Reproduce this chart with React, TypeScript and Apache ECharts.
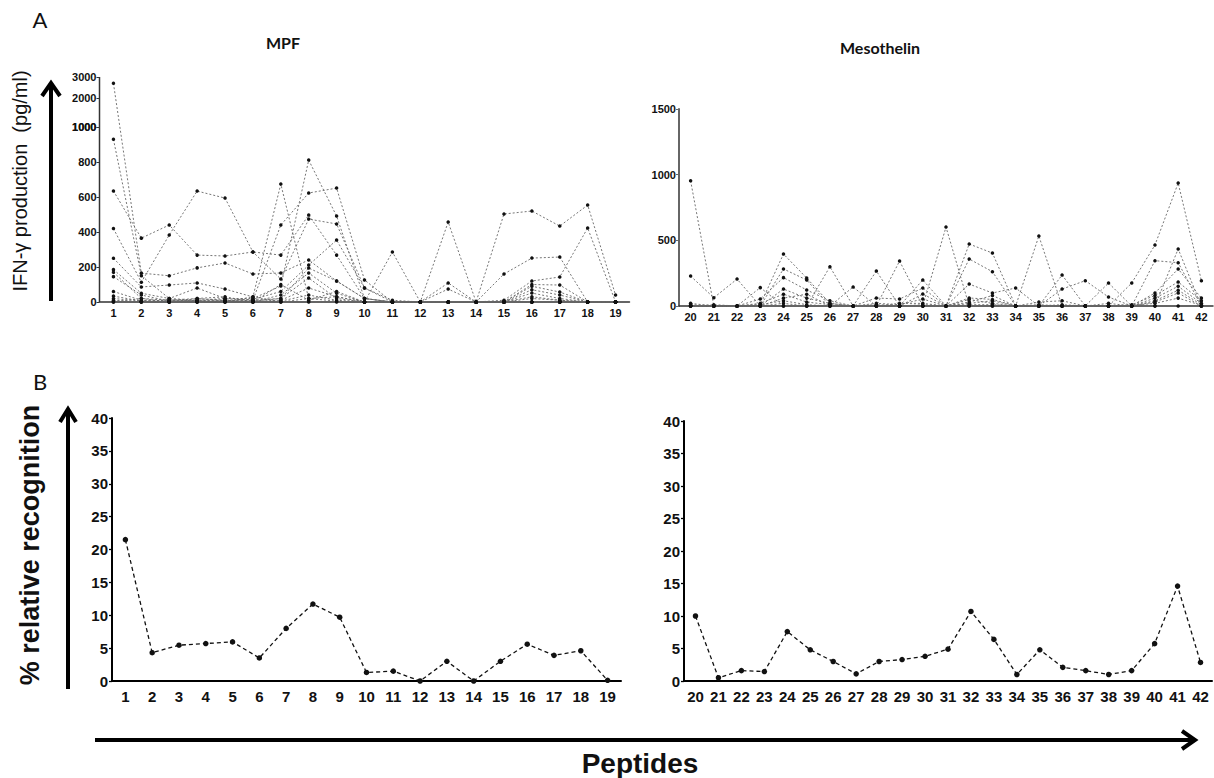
import { useEffect, useRef } from "react";
import * as echarts from "echarts";

// ---------- DATA ----------
const mpfPeptides = ["1","2","3","4","5","6","7","8","9","10","11","12","13","14","15","16","17","18","19"];
const mesoPeptides = ["20","21","22","23","24","25","26","27","28","29","30","31","32","33","34","35","36","37","38","39","40","41","42"];

// IFN-gamma production (pg/ml), one row per donor, MPF peptides 1..19
const mpfDonor1 = [2700, 165, 150, 195, 223, 160, 166, 240, 120, 20, 0, 0, 0, 0, 0, 20, 10, 0, 0];
const mpfDonor2 = [930, 150, 20, 10, 20, 10, 440, 623, 651, 126, 0, 0, 0, 0, 0, 0, 0, 0, 0];
const mpfDonor3 = [635, 365, 440, 268, 263, 286, 268, 497, 268, 20, 0, 0, 0, 0, 0, 0, 0, 0, 0];
const mpfDonor4 = [420, 113, 383, 634, 594, 286, 131, 474, 446, 80, 0, 0, 0, 0, 0, 0, 0, 0, 0];
const mpfDonor5 = [250, 86, 97, 109, 74, 29, 674, 20, 30, 0, 286, 0, 0, 0, 0, 0, 0, 0, 0];
const mpfDonor6 = [185, 50, 20, 80, 20, 20, 91, 811, 491, 20, 0, 0, 457, 0, 503, 520, 434, 554, 40];
const mpfDonor7 = [170, 20, 10, 20, 10, 15, 60, 211, 354, 80, 10, 0, 109, 0, 160, 251, 257, 0, 0];
const mpfDonor8 = [145, 40, 5, 10, 5, 5, 20, 194, 120, 20, 0, 0, 74, 0, 10, 120, 143, 423, 0];
const mpfDonor9 = [60, 10, 0, 10, 10, 0, 40, 166, 50, 0, 0, 0, 0, 0, 0, 100, 97, 0, 0];
const mpfDonor10 = [34, 5, 10, 0, 5, 10, 20, 137, 20, 0, 0, 0, 0, 0, 0, 90, 57, 0, 0];
const mpfDonor11 = [10, 0, 5, 5, 0, 5, 10, 80, 30, 0, 0, 0, 0, 0, 0, 70, 40, 0, 0];
const mpfDonor12 = [0, 20, 0, 0, 10, 0, 5, 40, 10, 0, 0, 0, 0, 0, 0, 51, 20, 0, 0];
const mpfDonor13 = [5, 0, 15, 5, 0, 30, 0, 20, 5, 0, 0, 0, 0, 0, 0, 30, 10, 0, 0];
const mpfDonor14 = [20, 5, 0, 20, 30, 0, 100, 10, 60, 0, 0, 0, 0, 0, 0, 0, 0, 0, 0];
const mpfDonor15 = [0, 0, 0, 0, 0, 0, 0, 0, 0, 0, 0, 0, 0, 0, 0, 0, 0, 0, 0];

// Mesothelin peptides 20..42
const mesoDonor1 = [954, 0, 0, 10, 396, 213, 20, 0, 0, 0, 0, 0, 472, 403, 0, 0, 0, 0, 0, 175, 464, 936, 193];
const mesoDonor2 = [228, 63, 205, 0, 282, 198, 0, 145, 0, 342, 0, 601, 0, 0, 0, 533, 0, 0, 0, 0, 345, 330, 0];
const mesoDonor3 = [20, 0, 0, 140, 0, 0, 299, 0, 266, 0, 198, 0, 358, 261, 0, 0, 236, 0, 175, 0, 0, 434, 0];
const mesoDonor4 = [0, 10, 0, 53, 216, 122, 40, 0, 61, 53, 137, 0, 167, 99, 137, 0, 129, 193, 68, 0, 99, 282, 60];
const mesoDonor5 = [10, 0, 0, 0, 129, 60, 20, 0, 0, 0, 91, 0, 61, 50, 0, 30, 40, 0, 0, 10, 80, 183, 40];
const mesoDonor6 = [0, 0, 0, 20, 90, 30, 10, 0, 20, 10, 53, 0, 30, 80, 0, 10, 0, 0, 20, 0, 60, 150, 20];
const mesoDonor7 = [5, 0, 0, 0, 60, 90, 0, 0, 0, 20, 20, 0, 20, 40, 0, 0, 10, 0, 0, 0, 40, 120, 10];
const mesoDonor8 = [0, 0, 0, 10, 40, 10, 0, 0, 10, 0, 10, 0, 50, 20, 0, 0, 0, 0, 0, 0, 30, 99, 0];
const mesoDonor9 = [0, 0, 0, 0, 20, 0, 5, 0, 0, 0, 0, 0, 10, 10, 0, 0, 0, 0, 0, 5, 20, 60, 5];
const mesoDonor10 = [0, 0, 0, 0, 0, 0, 0, 0, 0, 0, 0, 0, 0, 0, 0, 0, 0, 0, 0, 0, 0, 0, 0];

// % relative recognition
const mpfRecognition = [21.5, 4.3, 5.45, 5.7, 5.95, 3.5, 8.0, 11.7, 9.7, 1.3, 1.5, 0, 3.0, 0, 3.0, 5.6, 3.9, 4.6, 0.1];
const mesoRecognition = [10.0, 0.5, 1.6, 1.45, 7.6, 4.8, 3.0, 1.1, 3.0, 3.3, 3.8, 4.9, 10.7, 6.4, 1.0, 4.8, 2.1, 1.6, 1.0, 1.6, 5.75, 14.6, 2.85];

// tick labels
const mpfLowerTicks = [0, 200, 400, 600, 800, 1000];
const mpfUpperTicks = [1000, 2000, 3000];

const mpfRows = [mpfDonor1, mpfDonor2, mpfDonor3, mpfDonor4, mpfDonor5, mpfDonor6, mpfDonor7, mpfDonor8, mpfDonor9, mpfDonor10, mpfDonor11, mpfDonor12, mpfDonor13, mpfDonor14, mpfDonor15];
const mesoRows = [mesoDonor1, mesoDonor2, mesoDonor3, mesoDonor4, mesoDonor5, mesoDonor6, mesoDonor7, mesoDonor8, mesoDonor9, mesoDonor10];

// ---------- broken-axis scale (0-1000 linear, then compressed 1000-3000) ----------
const BREAK_AT = 1000;
const BREAK_GAP = 46;
const UPPER_RATIO = 0.12;
const brk = (v: number) => (v <= BREAK_AT ? v : BREAK_AT + BREAK_GAP + (v - BREAK_AT) * UPPER_RATIO);
const unbrk = (t: number) => (t <= BREAK_AT ? t : BREAK_AT + (t - BREAK_AT - BREAK_GAP) / UPPER_RATIO);
const MPF_AXIS_MAX = brk(3000);

// ---------- layout ----------
const G_A1 = { left: 99.5, top: 77, width: 530, height: 225 };
const G_A2 = { left: 679, top: 109, width: 534, height: 197 };
const G_B1 = { left: 112, top: 418, width: 509, height: 263 };
const G_B2 = { left: 684, top: 421, width: 528, height: 260 };

const NARROW = "'Liberation Sans Narrow', 'Arial Narrow', 'Liberation Sans', Arial, sans-serif";
const SANS = "'Liberation Sans', Arial, sans-serif";

export default function App() {
  const ref = useRef<HTMLDivElement>(null);
  useEffect(() => {
    document.body.style.margin = "0";
    document.body.style.overflow = "hidden";
    if (!ref.current) return;
    const chart = echarts.init(ref.current, null, { renderer: "svg" });

    const tickValsA1 = [...mpfLowerTicks, ...mpfUpperTicks.map(brk)];
    const yOfA1 = (t: number) => G_A1.top + G_A1.height * (1 - t / MPF_AXIS_MAX);

    const xAxisTop = (gridIndex: number, data: string[]) => ({
      type: "category",
      gridIndex,
      data,
      boundaryGap: true,
      axisLine: { lineStyle: { color: "#333", width: 1.5 } },
      axisTick: { alignWithLabel: true, length: 3, lineStyle: { color: "#333" } },
      axisLabel: { interval: 0, fontSize: 11, fontWeight: "bold", color: "#111", margin: 5, fontFamily: NARROW },
    });
    const xAxisBottom = (gridIndex: number, data: string[]) => ({
      type: "category",
      gridIndex,
      data,
      boundaryGap: true,
      axisLine: { lineStyle: { color: "#000", width: 2 } },
      axisTick: { alignWithLabel: true, length: 4, lineStyle: { color: "#000", width: 1.3 } },
      axisLabel: { interval: 0, fontSize: 15, fontWeight: "bold", color: "#111", margin: 8, fontFamily: NARROW },
    });
    const yAxisBottom = (gridIndex: number) => ({
      type: "value",
      gridIndex,
      min: 0,
      max: 40,
      interval: 5,
      splitLine: { show: false },
      axisLine: { show: true, lineStyle: { color: "#000", width: 2 } },
      axisTick: { show: true, length: 3, lineStyle: { color: "#000", width: 1.3 } },
      axisLabel: { fontSize: 15, fontWeight: "bold", color: "#111", margin: 4, fontFamily: NARROW },
    });

    const donorLine = (xi: number, yi: number, data: number[]) => ({
      type: "line",
      xAxisIndex: xi,
      yAxisIndex: yi,
      data,
      symbol: "circle",
      symbolSize: 3.5,
      silent: true,
      lineStyle: { type: [2, 2], color: "#666", width: 0.9 },
      itemStyle: { color: "#111" },
    });
    const recogLine = (xi: number, yi: number, data: number[]) => ({
      type: "line",
      xAxisIndex: xi,
      yAxisIndex: yi,
      data,
      symbol: "circle",
      symbolSize: 5.5,
      silent: true,
      lineStyle: { type: [4, 3], color: "#111", width: 1.3 },
      itemStyle: { color: "#111" },
    });

    const arrowStyle = { stroke: "#000", lineWidth: 4, fill: "none" };
    const center = { textAlign: "center", textVerticalAlign: "middle", align: "center", verticalAlign: "middle" };

    const option: any = {
      animation: false,
      backgroundColor: "#ffffff",
      grid: [G_A1, G_A2, G_B1, G_B2].map((g) => ({ ...g, containLabel: false })),
      xAxis: [
        xAxisTop(0, mpfPeptides),
        xAxisTop(1, mesoPeptides),
        xAxisBottom(2, mpfPeptides),
        xAxisBottom(3, mesoPeptides),
      ],
      yAxis: [
        {
          type: "value",
          gridIndex: 0,
          min: 0,
          max: MPF_AXIS_MAX,
          splitLine: { show: false },
          axisLine: { show: false },
          axisTick: { show: true, customValues: tickValsA1, length: 3, lineStyle: { color: "#333" } },
          axisLabel: {
            customValues: tickValsA1,
            formatter: (v: number) => String(Math.round(unbrk(v))),
            fontSize: 11,
            fontWeight: "bold",
            color: "#111",
            margin: 3,
            fontFamily: NARROW,
          },
        },
        {
          type: "value",
          gridIndex: 1,
          min: 0,
          max: 1500,
          interval: 500,
          splitLine: { show: false },
          axisLine: { show: true, lineStyle: { color: "#666", width: 2 } },
          axisTick: { show: true, length: 3, lineStyle: { color: "#666" } },
          axisLabel: { formatter: (v: number) => String(v), fontSize: 11, fontWeight: "bold", color: "#111", margin: 3, fontFamily: NARROW },
        },
        yAxisBottom(2),
        yAxisBottom(3),
      ],
      series: [
        ...mpfRows.map((r) => donorLine(0, 0, r.map(brk))),
        ...mesoRows.map((r) => donorLine(1, 1, r)),
        recogLine(2, 2, mpfRecognition),
        recogLine(3, 3, mesoRecognition),
      ],
      graphic: {
        elements: [
          // broken y-axis line for MPF (panel A)
          { type: "line", shape: { x1: G_A1.left, y1: G_A1.top + G_A1.height, x2: G_A1.left, y2: yOfA1(BREAK_AT) }, style: { stroke: "#333", lineWidth: 1.5 } },
          { type: "line", shape: { x1: G_A1.left, y1: yOfA1(brk(BREAK_AT)), x2: G_A1.left, y2: G_A1.top }, style: { stroke: "#333", lineWidth: 1.5 } },
          // panel letters and titles
          { type: "text", x: 40, y: 19, style: { text: "A", font: "22px Lato, 'Open Sans', sans-serif", fill: "#111", ...center } },
          { type: "text", x: 40, y: 381, style: { text: "B", font: "22px Lato, 'Open Sans', sans-serif", fill: "#111", ...center } },
          { type: "text", x: 283, y: 42, style: { text: "MPF", font: "bold 16px Lato, 'Open Sans', sans-serif", fill: "#111", ...center } },
          { type: "text", x: 880, y: 47, style: { text: "Mesothelin", font: "bold 16px Lato, 'Open Sans', sans-serif", fill: "#111", ...center } },
          // axis titles
          { type: "text", x: 20, y: 181, rotation: Math.PI / 2, style: { text: "IFN-\u03b3 production  (pg/ml)", font: `20px ${SANS}`, fill: "#111", ...center } },
          { type: "text", x: 30, y: 545, rotation: Math.PI / 2, style: { text: "% relative recognition", font: `bold 27px ${SANS}`, fill: "#111", ...center } },
          { type: "text", x: 640, y: 763, style: { text: "Peptides", font: `bold 28px ${SANS}`, fill: "#111", ...center } },
          // arrows
          { type: "line", shape: { x1: 51, y1: 301, x2: 51, y2: 84 }, style: arrowStyle },
          { type: "polyline", shape: { points: [[42, 96], [51, 83], [60, 96]] }, style: arrowStyle },
          { type: "line", shape: { x1: 68, y1: 689, x2: 68, y2: 410 }, style: arrowStyle },
          { type: "polyline", shape: { points: [[60, 422], [68, 409], [76, 422]] }, style: arrowStyle },
          { type: "line", shape: { x1: 95, y1: 740, x2: 1194, y2: 740 }, style: arrowStyle },
          { type: "polyline", shape: { points: [[1182, 731], [1195, 740], [1182, 749]] }, style: arrowStyle },
        ],
      },
    };

    chart.setOption(option);
    return () => chart.dispose();
  }, []);
  return <div ref={ref} style={{ width: 1214, height: 778 }} />;
}
